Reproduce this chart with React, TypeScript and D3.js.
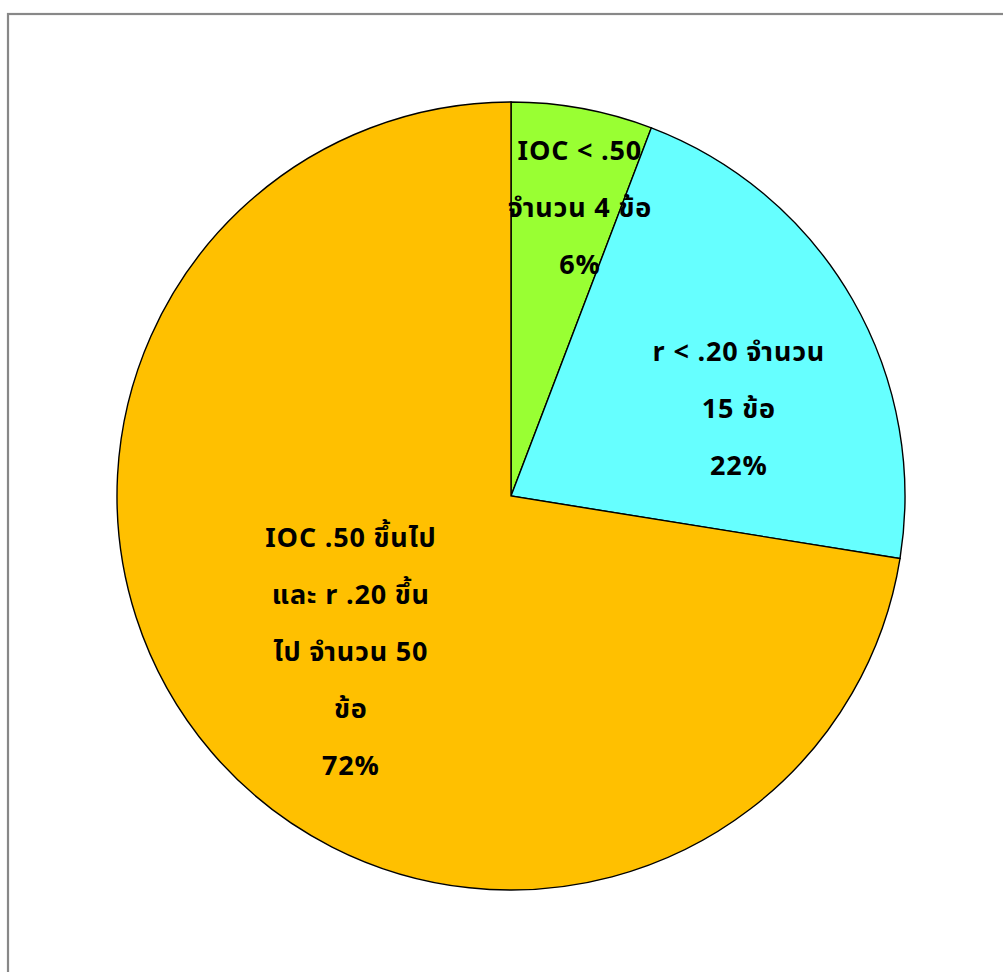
import React from "react";
import * as d3 from "d3";

const categories = ["IOC < .50", "r < .20", "IOC .50 ขึ้นไป และ r .20 ขึ้นไป"];
const counts = [4, 15, 50];
const percentLabels = ["6%", "22%", "72%"];
const labelLines = [
  ["IOC < .50", "จำนวน 4 ข้อ", "6%"],
  ["r < .20 จำนวน", "15 ข้อ", "22%"],
  ["IOC .50 ขึ้นไป", "และ r .20 ขึ้น", "ไป จำนวน 50", "ข้อ", "72%"],
];
const colors = ["#99ff33", "#66ffff", "#ffc000"];

// label anchor (polar, relative to pie center): angle in degrees from top, distance in px
const labelAnchors = [
  { angle: 13.4, dist: 297 },
  { angle: 69, dist: 244 },
  { angle: 225.9, dist: 223 },
];

export default function App() {
  const W = 1003;
  const H = 972;
  const cx = 511;
  const cy = 496;
  const r = 394;
  const data = counts.map((v, i) => ({ v, i, name: categories[i] }));
  const pie = d3.pie<any>().value((d) => d.v).sort(null);
  const arcs = pie(data);
  const arc = d3.arc<any>().innerRadius(0).outerRadius(r);
  const lineH = 57;
  const font = "'Noto Sans Thai', 'Noto Sans', 'DejaVu Sans', sans-serif";
  return (
    <svg
      width={W}
      height={H}
      style={{ position: "absolute", left: 0, top: 0, background: "#fff" }}
    >
      <rect x={8} y={14} width={1100} height={1100} fill="#fff" stroke="#888" strokeWidth={2.2} />
      <g transform={`translate(${cx},${cy})`}>
        {arcs.map((a, i) => (
          <path key={i} d={arc(a) as string} fill={colors[i]} stroke="#000" strokeWidth={1.4} />
        ))}
        {labelLines.map((lines, i) => {
          const ang = (labelAnchors[i].angle * Math.PI) / 180;
          const x = Math.sin(ang) * labelAnchors[i].dist;
          const y = -Math.cos(ang) * labelAnchors[i].dist;
          const y0 = y - ((lines.length - 1) * lineH) / 2;
          return (
            <text
              key={i}
              textAnchor="middle"
              fontFamily={font}
              fontWeight="bold"
              fontSize={27}
              letterSpacing={0.8}
              fill="#000"
            >
              {lines.map((l, j) => (
                <tspan key={j} x={x} y={y0 + j * lineH} dy="0.35em">
                  {l}
                </tspan>
              ))}
            </text>
          );
        })}
      </g>
      <title>{percentLabels.join(" ")}</title>
    </svg>
  );
}
